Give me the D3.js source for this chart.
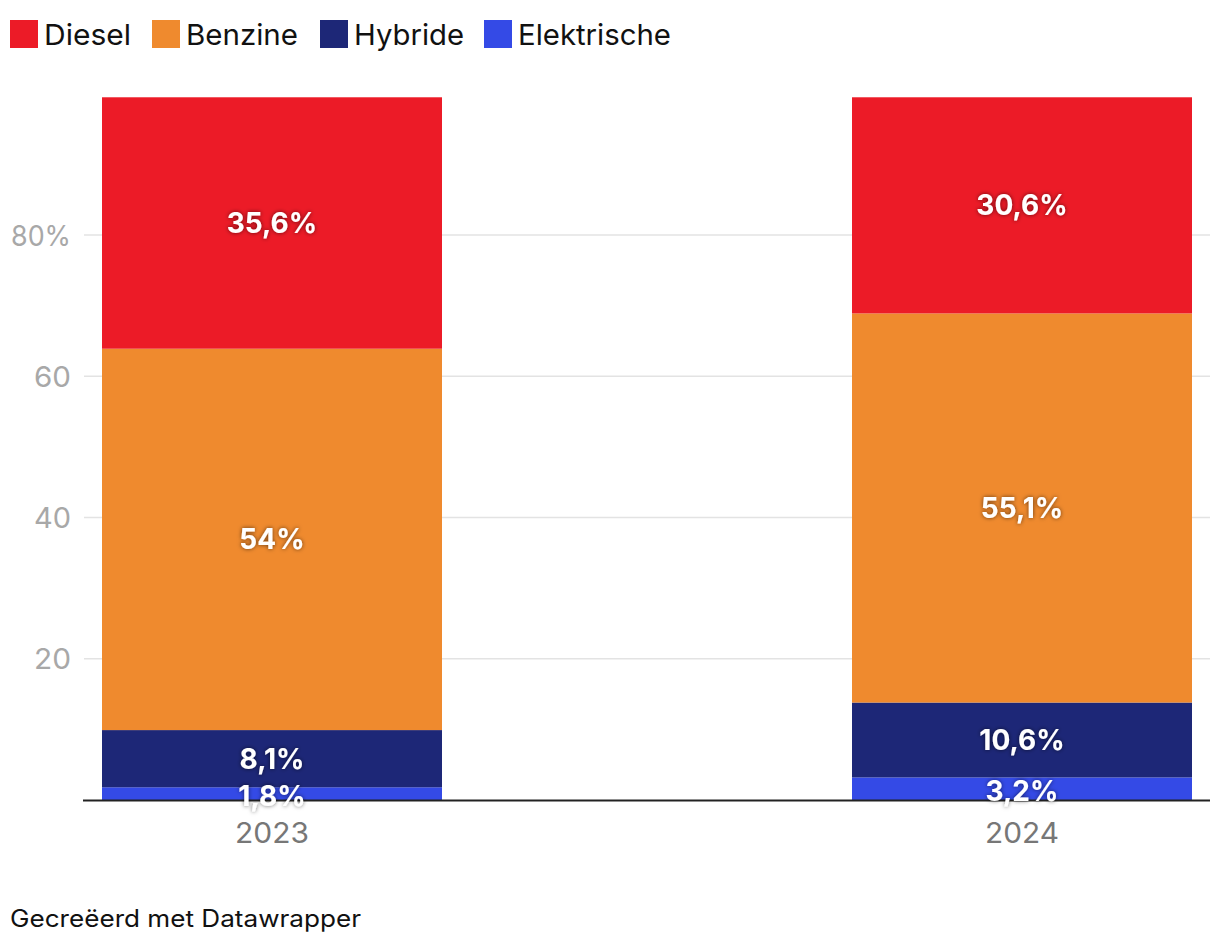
<!DOCTYPE html>
<html><head><meta charset="utf-8">
<script src="https://cdn.jsdelivr.net/npm/d3@7"></script>
<style>
body{margin:0;background:#fff;font-family:Inter,"Open Sans",sans-serif;}
</style></head>
<body><svg id="c" width="1220" height="948"></svg>
<script>
const years = ["2023","2024"];
const seriesNames = ["Elektrische","Hybride","Benzine","Diesel"];
const legendOrder = ["Diesel","Benzine","Hybride","Elektrische"];
const elektrische = [1.8, 3.2];
const hybride = [8.1, 10.6];
const benzine = [54, 55.1];
const diesel = [35.6, 30.6];
const labelsText = {
  Elektrische:["1,8%","3,2%"], Hybride:["8,1%","10,6%"], Benzine:["54%","55,1%"], Diesel:["35,6%","30,6%"]
};
const yTicks = [20,40,60,80];
const colors = {Diesel:"#ec1b27", Benzine:"#ef8a2e", Hybride:"#1d2777", Elektrische:"#344ae6"};

// layout constants (text widths matched to reference)
const legX = [10,152,320,484];
const legW = [87,112,110,153];

const rows = years.map((y,i)=>({year:y, Elektrische:elektrische[i], Hybride:hybride[i], Benzine:benzine[i], Diesel:diesel[i]}));
const stack = d3.stack().keys(seriesNames)(rows);

const svg = d3.select("#c");
const defs = svg.append("defs");
const f = defs.append("filter").attr("id","sh").attr("x","-20%").attr("y","-40%").attr("width","140%").attr("height","180%");
f.append("feDropShadow").attr("dx",0).attr("dy",0).attr("stdDeviation",2).attr("flood-color","#000").attr("flood-opacity",0.6);

const xb = d3.scaleBand().domain(years).range([102,1192]).paddingInner(410/750).paddingOuter(0);
const y = d3.scaleLinear().domain([0,100]).range([800,93.75]);

// gridlines
svg.append("g").selectAll("line").data(yTicks).join("line")
  .attr("x1",84).attr("x2",1210).attr("y1",d=>y(d)).attr("y2",d=>y(d))
  .attr("stroke","#e3e3e3").attr("stroke-width",1.5);
svg.append("g").selectAll("text").data(yTicks).join("text")
  .attr("x",71).attr("y",d=>y(d)).attr("dy","0.37em").attr("text-anchor","end")
  .attr("font-size",29).attr("fill","#a8a8a8").attr("textLength",d=>d===80?60:37).attr("lengthAdjust","spacingAndGlyphs")
  .text(d=>d===80?"80%":d);

// bars
svg.append("g").selectAll("g").data(stack).join("g").attr("fill",d=>colors[d.key])
  .selectAll("rect").data(d=>d).join("rect")
  .attr("x",d=>xb(d.data.year)).attr("width",xb.bandwidth())
  .attr("y",d=>y(d[1])).attr("height",d=>y(d[0])-y(d[1]));

// baseline
svg.append("line").attr("x1",83).attr("x2",1210).attr("y1",800.5).attr("y2",800.5).attr("stroke","#222").attr("stroke-width",2);

// value labels
stack.forEach(s=>{
  svg.append("g").selectAll("text").data(s).join("text")
    .attr("x",d=>xb(d.data.year)+xb.bandwidth()/2)
    .attr("y",d=>(y(d[0])+y(d[1]))/2+ (s.key==="Elektrische"?2:0))
    .attr("dy","0.36em").attr("text-anchor","middle")
    .attr("font-size",28).attr("font-weight",700).attr("fill","#fff")
    .attr("filter","url(#sh)")
    .text((d,i)=>labelsText[s.key][i]);
});

// x labels
svg.append("g").selectAll("text").data(years).join("text")
  .attr("x",d=>xb(d)+xb.bandwidth()/2).attr("y",843).attr("text-anchor","middle")
  .attr("font-size",29).attr("fill","#777").attr("textLength",74).attr("lengthAdjust","spacingAndGlyphs").text(d=>d);

// legend
const lg = svg.append("g").selectAll("g").data(legendOrder).join("g")
  .attr("transform",(d,i)=>`translate(${legX[i]},20)`);
lg.append("rect").attr("width",28).attr("height",28).attr("fill",d=>colors[d]);
lg.append("text").attr("x",34).attr("y",14).attr("dy","0.37em").attr("font-size",29).attr("fill","#111")
  .attr("textLength",(d,i)=>legW[i]).attr("lengthAdjust","spacingAndGlyphs").text(d=>d);

// footer
svg.append("text").attr("x",10).attr("y",927).attr("font-size",24).attr("fill","#111")
  .attr("textLength",351).attr("lengthAdjust","spacingAndGlyphs").text("Gecreëerd met Datawrapper");
</script></body></html>
